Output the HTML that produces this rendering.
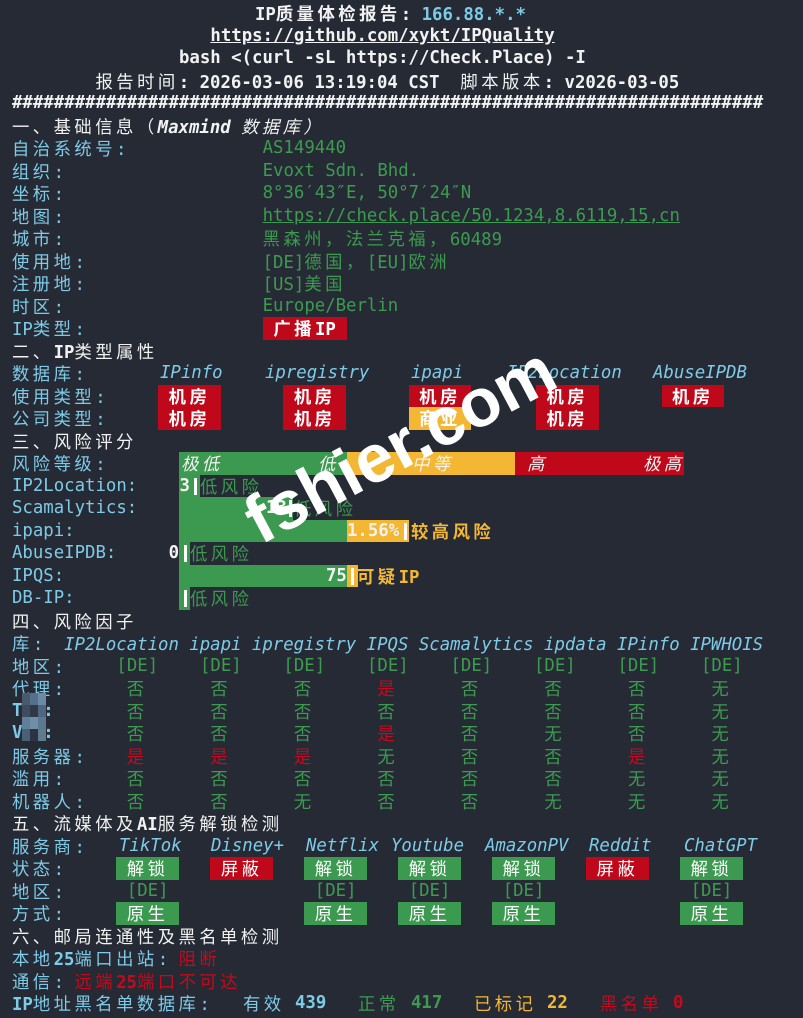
<!DOCTYPE html>
<html><head><meta charset="utf-8">
<style>
html,body{margin:0;padding:0;background:#252a35;}
body{width:803px;height:1018px;position:relative;overflow:hidden;font-family:"DejaVu Sans Mono","Liberation Mono","Noto Sans CJK SC",monospace;font-size:17.34px;color:#e8e8e8;}
.l{position:absolute;left:12px;height:22.5px;line-height:22.5px;white-space:pre;}
.a{position:absolute;top:0;height:22.5px;line-height:22.5px;white-space:pre;}
.c{font-family:"Noto Sans CJK SC","WenQuanYi Zen Hei",sans-serif;letter-spacing:3.48px;}
.cy{color:#7ecbe8}
.g{color:#3d9b50}
.r{color:#c40a1c}
.y{color:#f4b733}
.w{color:#f2f2f2}
.b{font-weight:bold}
.i{font-style:italic}
.u{text-decoration:underline}
.bg{background:#3b9a4f}
.br{background:#c0081b}
.by{background:#f4b733}
.bd{position:absolute;top:0;height:22.5px;width:62.6px;text-align:center;color:#fff;font-weight:bold;}
.bar{position:absolute;top:3px;width:3px;height:17px;background:#fff;}
.blk{position:absolute;top:0;height:22.5px;}
</style></head><body>

<div class="l b w" style="top:2px;left:255px"><span>IP</span><span class="c">质量体检报告</span>: <span class="cy">166.88.*.*</span></div>
<div class="l b w u" style="top:24.5px;left:210.4px">https://github.com/xykt/IPQuality</div>
<div class="l b w" style="top:47px;left:179px">bash &lt;(curl -sL https://Check.Place) -I</div>
<div class="l b w" style="top:69.5px;left:95.5px"><span class="c" style="font-weight:normal">报告时间</span>: 2026-03-06 13:19:04 CST  <span class="c" style="font-weight:normal">脚本版本</span>: v2026-03-05</div>
<div class="l b w" style="top:92px">########################################################################</div>
<div class="l w" style="top:114.5px"><span class="c">一、基础信息（</span><span class="b i">Maxmind</span> <span class="c i">数据库）</span></div>

<div class="l cy" style="top:137px;left:0;width:803px"><span class="a" style="left:12px"><span class="c">自治系统号</span>:</span><span class="a g" style="left:262.6px">AS149440</span></div>
<div class="l cy" style="top:159.5px;left:0;width:803px"><span class="a" style="left:12px"><span class="c">组织</span>:</span><span class="a g" style="left:262.6px">Evoxt Sdn. Bhd.</span></div>
<div class="l cy" style="top:182px;left:0;width:803px"><span class="a" style="left:12px"><span class="c">坐标</span>:</span><span class="a g" style="left:262.6px">8°36′43″E, 50°7′24″N</span></div>
<div class="l cy" style="top:204.5px;left:0;width:803px"><span class="a" style="left:12px"><span class="c">地图</span>:</span><span class="a g u" style="left:262.6px">https://check.place/50.1234,8.6119,15,cn</span></div>
<div class="l cy" style="top:227px;left:0;width:803px"><span class="a" style="left:12px"><span class="c">城市</span>:</span><span class="a g" style="left:262.6px"><span class="c">黑森州，法兰克福，</span>60489</span></div>
<div class="l cy" style="top:249.5px;left:0;width:803px"><span class="a" style="left:12px"><span class="c">使用地</span>:</span><span class="a g" style="left:262.6px">[DE]<span class="c">德国，</span>[EU]<span class="c">欧洲</span></span></div>
<div class="l cy" style="top:272px;left:0;width:803px"><span class="a" style="left:12px"><span class="c">注册地</span>:</span><span class="a g" style="left:262.6px">[US]<span class="c">美国</span></span></div>
<div class="l cy" style="top:294.5px;left:0;width:803px"><span class="a" style="left:12px"><span class="c">时区</span>:</span><span class="a g" style="left:262.6px">Europe/Berlin</span></div>
<div class="l cy" style="top:317px;left:0;width:803px"><span class="a" style="left:12px">IP<span class="c">类型</span>:</span><span class="bd br" style="left:262.6px;width:84px"><span class="c">广播</span>IP</span></div>

<div class="l w" style="top:339.5px"><span class="c">二、</span><span class="b">IP</span><span class="c">类型属性</span></div>
<div class="l cy" style="top:362px;left:0;width:803px"><span class="a" style="left:12px"><span class="c">数据库</span>:</span>
<span class="a i" style="left:160px">IPinfo</span><span class="a i" style="left:265px">ipregistry</span><span class="a i" style="left:411px">ipapi</span><span class="a i" style="left:507px">IP2Location</span><span class="a i" style="left:653px">AbuseIPDB</span></div>
<div class="l cy" style="top:384.5px;left:0;width:803px"><span class="a" style="left:12px"><span class="c">使用类型</span>:</span>
<span class="bd br" style="left:158.2px"><span class="c">机房</span></span><span class="bd br" style="left:283.4px"><span class="c">机房</span></span><span class="bd br" style="left:408.7px"><span class="c">机房</span></span><span class="bd br" style="left:536px"><span class="c">机房</span></span><span class="bd br" style="left:661.5px"><span class="c">机房</span></span></div>
<div class="l cy" style="top:407px;left:0;width:803px"><span class="a" style="left:12px"><span class="c">公司类型</span>:</span>
<span class="bd br" style="left:158.2px"><span class="c">机房</span></span><span class="bd br" style="left:283.4px"><span class="c">机房</span></span><span class="bd by" style="left:408.7px"><span class="c">商业</span></span><span class="bd br" style="left:536px"><span class="c">机房</span></span></div>

<div class="l w" style="top:429.5px"><span class="c">三、风险评分</span></div>
<div class="l cy" style="top:452px;left:0;width:803px"><span class="a" style="left:12px"><span class="c">风险等级</span>:</span>
<span class="blk bg" style="left:179px;width:167.5px"></span><span class="blk by" style="left:346.5px;width:168px"></span><span class="blk br" style="left:514.5px;width:169.5px"></span>
<span class="a w i c" style="left:181px">极低</span><span class="a w i c" style="left:318px">低</span><span class="a w i c" style="left:412px">中等</span><span class="a w i c" style="left:527px">高</span><span class="a w i c" style="left:643px">极高</span></div>

<div class="l cy" style="top:474.5px;left:0;width:803px"><span class="a" style="left:12px">IP2Location:</span>
<span class="blk bg" style="left:179px;width:20.5px"></span><span class="a w b" style="left:179.5px">3</span><span class="bar" style="left:193.5px"></span><span class="a g c" style="left:200px">低风险</span></div>
<div class="l cy" style="top:497px;left:0;width:803px"><span class="a" style="left:12px">Scamalytics:</span>
<span class="blk bg" style="left:179px;width:114px"></span><span class="a w b" style="left:266px">13</span><span class="bar" style="left:289px"></span><span class="a g c" style="left:294px">低风险</span></div>
<div class="l cy" style="top:519.5px;left:0;width:803px"><span class="a" style="left:12px">ipapi:</span>
<span class="blk bg" style="left:179px;width:167.5px"></span><span class="blk by" style="left:346.5px;width:62px"></span><span class="a w b" style="left:347px">1.56%</span><span class="bar" style="left:404px"></span><span class="a y b c" style="left:411px">较高风险</span></div>
<div class="l cy" style="top:542px;left:0;width:803px"><span class="a" style="left:12px">AbuseIPDB:</span>
<span class="a w b" style="left:168.6px">0</span><span class="blk bg" style="left:179px;width:10.5px"></span><span class="bar" style="left:184px"></span><span class="a g c" style="left:190px">低风险</span></div>
<div class="l cy" style="top:564.5px;left:0;width:803px"><span class="a" style="left:12px">IPQS:</span>
<span class="blk bg" style="left:179px;width:167.5px"></span><span class="blk by" style="left:346.5px;width:11px"></span><span class="a w b" style="left:326px">75</span><span class="bar" style="left:351px"></span><span class="a y b" style="left:357px"><span class="c">可疑</span>IP</span></div>
<div class="l cy" style="top:587px;left:0;width:803px"><span class="a" style="left:12px">DB-IP:</span>
<span class="blk bg" style="left:179px;width:10.5px"></span><span class="bar" style="left:184px"></span><span class="a g c" style="left:190px">低风险</span></div>

<div class="l w" style="top:609.5px"><span class="c">四、风险因子</span></div>
<div class="l cy" style="top:632px"><span class="c">库</span>:  <span class="i">IP2Location ipapi ipregistry IPQS Scamalytics ipdata IPinfo IPWHOIS</span></div>

<div class="l cy" style="top:654.5px;left:0;width:803px"><span class="a" style="left:12px"><span class="c">地区</span>:</span>
<span class="a g" style="left:116.4px">[DE]</span><span class="a g" style="left:200px">[DE]</span><span class="a g" style="left:283.4px">[DE]</span><span class="a g" style="left:367px">[DE]</span><span class="a g" style="left:450.5px">[DE]</span><span class="a g" style="left:534px">[DE]</span><span class="a g" style="left:617.5px">[DE]</span><span class="a g" style="left:701px">[DE]</span></div>

<div class="l cy c" style="top:677px;left:0;width:803px"><span class="a" style="left:12px">代理<span style="font-family:'DejaVu Sans Mono';letter-spacing:0">:</span></span>
<span class="a g" style="left:126.8px">否</span><span class="a g" style="left:210.4px">否</span><span class="a g" style="left:293.9px">否</span><span class="a r" style="left:377.4px">是</span><span class="a g" style="left:460.9px">否</span><span class="a g" style="left:544.4px">否</span><span class="a g" style="left:628px">否</span><span class="a g" style="left:711.5px">无</span></div>
<div class="l cy c" style="top:699.5px;left:0;width:803px"><span class="a b" style="left:12px;font-family:'DejaVu Sans Mono';letter-spacing:0">T  :</span>
<span class="a g" style="left:126.8px">否</span><span class="a g" style="left:210.4px">否</span><span class="a g" style="left:293.9px">否</span><span class="a g" style="left:377.4px">否</span><span class="a g" style="left:460.9px">否</span><span class="a g" style="left:544.4px">否</span><span class="a g" style="left:628px">否</span><span class="a g" style="left:711.5px">无</span></div>
<div class="l cy c" style="top:722px;left:0;width:803px"><span class="a b" style="left:12px;font-family:'DejaVu Sans Mono';letter-spacing:0">V  :</span>
<span class="a g" style="left:126.8px">否</span><span class="a g" style="left:210.4px">否</span><span class="a g" style="left:293.9px">否</span><span class="a r" style="left:377.4px">是</span><span class="a g" style="left:460.9px">否</span><span class="a g" style="left:544.4px">无</span><span class="a g" style="left:628px">否</span><span class="a g" style="left:711.5px">无</span></div>
<div style="position:absolute;left:22px;top:693px;width:24px;height:48px;">
<div style="position:absolute;left:0;top:0;width:8px;height:12px;background:#4a5a6e"></div>
<div style="position:absolute;left:8px;top:0;width:8px;height:12px;background:#56708a"></div>
<div style="position:absolute;left:16px;top:0;width:8px;height:12px;background:#6a8aa6"></div>
<div style="position:absolute;left:0;top:12px;width:8px;height:12px;background:#3e4c5e"></div>
<div style="position:absolute;left:8px;top:12px;width:8px;height:12px;background:#2e3848"></div>
<div style="position:absolute;left:16px;top:12px;width:8px;height:12px;background:#4f6680"></div>
<div style="position:absolute;left:0;top:24px;width:8px;height:12px;background:#5f7f9a"></div>
<div style="position:absolute;left:8px;top:24px;width:8px;height:12px;background:#6f8fa8"></div>
<div style="position:absolute;left:16px;top:24px;width:8px;height:12px;background:#5a7890"></div>
<div style="position:absolute;left:0;top:36px;width:8px;height:12px;background:#4a6078"></div>
<div style="position:absolute;left:8px;top:36px;width:8px;height:12px;background:#2c3444"></div>
<div style="position:absolute;left:16px;top:36px;width:8px;height:12px;background:#607a8e"></div>
</div>
<div class="l cy c" style="top:744.5px;left:0;width:803px"><span class="a" style="left:12px">服务器<span style="font-family:'DejaVu Sans Mono';letter-spacing:0">:</span></span>
<span class="a r" style="left:126.8px">是</span><span class="a r" style="left:210.4px">是</span><span class="a r" style="left:293.9px">是</span><span class="a g" style="left:377.4px">无</span><span class="a g" style="left:460.9px">否</span><span class="a g" style="left:544.4px">否</span><span class="a r" style="left:628px">是</span><span class="a g" style="left:711.5px">无</span></div>
<div class="l cy c" style="top:767px;left:0;width:803px"><span class="a" style="left:12px">滥用<span style="font-family:'DejaVu Sans Mono';letter-spacing:0">:</span></span>
<span class="a g" style="left:126.8px">否</span><span class="a g" style="left:210.4px">否</span><span class="a g" style="left:293.9px">否</span><span class="a g" style="left:377.4px">否</span><span class="a g" style="left:460.9px">否</span><span class="a g" style="left:544.4px">否</span><span class="a g" style="left:628px">无</span><span class="a g" style="left:711.5px">无</span></div>
<div class="l cy c" style="top:789.5px;left:0;width:803px"><span class="a" style="left:12px">机器人<span style="font-family:'DejaVu Sans Mono';letter-spacing:0">:</span></span>
<span class="a g" style="left:126.8px">否</span><span class="a g" style="left:210.4px">否</span><span class="a g" style="left:293.9px">无</span><span class="a g" style="left:377.4px">否</span><span class="a g" style="left:460.9px">否</span><span class="a g" style="left:544.4px">无</span><span class="a g" style="left:628px">无</span><span class="a g" style="left:711.5px">无</span></div>

<div class="l w" style="top:812px"><span class="c">五、流媒体及</span><span class="b">AI</span><span class="c">服务解锁检测</span></div>
<div class="l cy" style="top:834.5px;left:0;width:803px"><span class="a" style="left:12px"><span class="c">服务商</span>:</span>
<span class="a i" style="left:119px">TikTok</span><span class="a i" style="left:211px">Disney+</span><span class="a i" style="left:306px">Netflix</span><span class="a i" style="left:391px">Youtube</span><span class="a i" style="left:485px">AmazonPV</span><span class="a i" style="left:589px">Reddit</span><span class="a i" style="left:684px">ChatGPT</span></div>
<div class="l cy" style="top:857px;left:0;width:803px"><span class="a" style="left:12px"><span class="c">状态</span>:</span>
<span class="bd bg" style="left:116.4px;font-weight:normal"><span class="c">解锁</span></span><span class="bd br" style="left:210.4px;font-weight:normal"><span class="c">屏蔽</span></span><span class="bd bg" style="left:304.3px;font-weight:normal"><span class="c">解锁</span></span><span class="bd bg" style="left:398.3px;font-weight:normal"><span class="c">解锁</span></span><span class="bd bg" style="left:492.2px;font-weight:normal"><span class="c">解锁</span></span><span class="bd br" style="left:586.2px;font-weight:normal"><span class="c">屏蔽</span></span><span class="bd bg" style="left:680.2px;font-weight:normal"><span class="c">解锁</span></span></div>
<div class="l cy" style="top:879.5px;left:0;width:803px"><span class="a" style="left:12px"><span class="c">地区</span>:</span>
<span class="a g" style="left:126.8px">[DE]</span><span class="a g" style="left:314.8px">[DE]</span><span class="a g" style="left:408.7px">[DE]</span><span class="a g" style="left:502.7px">[DE]</span><span class="a g" style="left:690.6px">[DE]</span></div>
<div class="l cy" style="top:902px;left:0;width:803px"><span class="a" style="left:12px"><span class="c">方式</span>:</span>
<span class="bd bg" style="left:116.4px;font-weight:normal"><span class="c">原生</span></span><span class="bd bg" style="left:304.3px;font-weight:normal"><span class="c">原生</span></span><span class="bd bg" style="left:398.3px;font-weight:normal"><span class="c">原生</span></span><span class="bd bg" style="left:492.2px;font-weight:normal"><span class="c">原生</span></span><span class="bd bg" style="left:680.2px;font-weight:normal"><span class="c">原生</span></span></div>

<div class="l w" style="top:924.5px"><span class="c">六、邮局连通性及黑名单检测</span></div>
<div class="l cy" style="top:947px"><span class="c">本地</span><span class="b">25</span><span class="c">端口出站</span>: <span class="r c">阻断</span></div>
<div class="l cy" style="top:969.5px"><span class="c">通信</span>: <span class="r"><span class="c">远端</span><span class="b">25</span><span class="c">端口不可达</span></span></div>
<div class="l cy" style="top:992px;left:0;width:803px"><span class="a" style="left:12px"><span class="b">IP</span><span class="c">地址黑名单数据库</span>:</span>
<span class="a c" style="left:243px">有效</span><span class="a b" style="left:295px">439</span>
<span class="a g c" style="left:358px">正常</span><span class="a g b" style="left:411px">417</span>
<span class="a y c" style="left:474px">已标记</span><span class="a y b" style="left:547px">22</span>
<span class="a r c" style="left:600px">黑名单</span><span class="a r b" style="left:673px">0</span></div>

<div style="position:absolute;left:400px;top:445px;width:0;height:0;">
<div style="position:absolute;left:-200px;top:-45px;width:400px;height:90px;line-height:90px;text-align:center;font-family:'Liberation Sans','DejaVu Sans',sans-serif;font-weight:bold;font-size:68px;color:#fff;transform:rotate(-28deg);white-space:nowrap;">fshier.com</div>
</div>
</body></html>
